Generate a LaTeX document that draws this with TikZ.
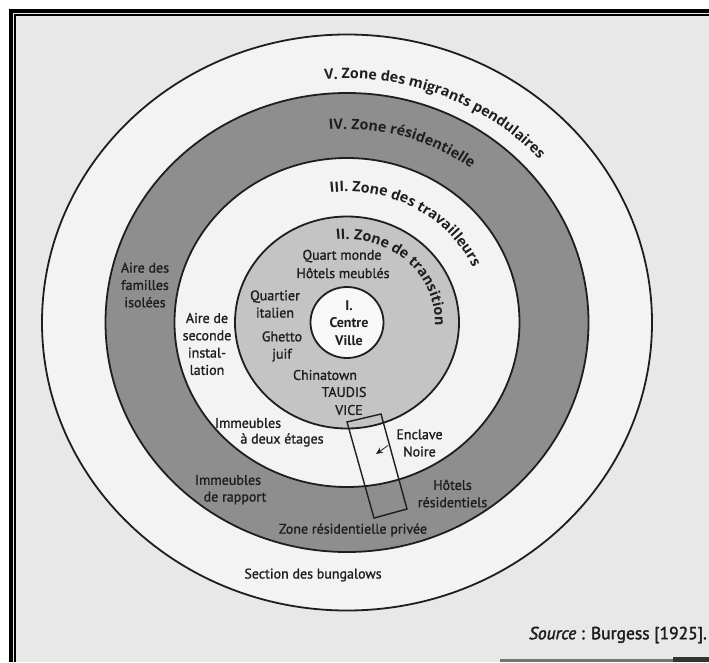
\documentclass[tikz,border=0pt]{standalone}
\usepackage{fontspec}
\setmainfont{PT Sans}
\newfontfamily\labelfamily[FakeBold=1.2]{PT Sans}
\newfontfamily\srcfamily[FakeBold=2]{PT Sans}
\newfontfamily\zonefamily{Open Sans}
\usetikzlibrary{decorations.text,arrows.meta}
\definecolor{bgc}{HTML}{E8E8E8}
\definecolor{lightring}{HTML}{F3F3F3}
\definecolor{darkring}{HTML}{8E8E8E}
\definecolor{midring}{HTML}{C4C4C4}
\definecolor{core}{HTML}{F8F8F8}
\definecolor{ink}{HTML}{1E1E1E}
\newcommand{\zonetitlefont}{\color{ink}\zonefamily\bfseries\fontsize{14.3}{16}\selectfont}
\begin{document}
\begin{tikzpicture}[x=1pt,y=-1pt,
  zone/.style={draw=ink,line width=1.8pt},
  lbl/.style={font=\labelfamily\fontsize{14}{17.3}\selectfont,align=center,text=ink,inner sep=0pt},
  blbl/.style={lbl,font=\bfseries\fontsize{14}{17.3}\selectfont},
  srclbl/.style={font=\srcfamily\fontsize{17.5}{20}\selectfont,text=ink,inner sep=0pt},
  frameline/.style={draw=black},
]
\useasboundingbox (0,0) rectangle (709,662);
\fill[white] (0,0) rectangle (709,662);
\fill[bgc] (9,9) rectangle (709,662);
% frame
\draw[frameline,line width=4pt] (11,662) -- (11,11) -- (709,11);
\draw[frameline,line width=1.6pt] (15.2,662) -- (15.2,15.2) -- (709,15.2);
\fill[black!55] (500,659) rectangle (709,662);
\fill[black!80] (673,657) rectangle (709,662);
% zones
\coordinate (c) at (347,322.5);
\draw[zone,fill=lightring] (c) ellipse [x radius=305, y radius=288];
\draw[zone,fill=darkring] (c) ellipse [x radius=241.5, y radius=229.5];
\draw[zone,fill=lightring] (c) ellipse [x radius=172.5, y radius=164.5];
\draw[zone,fill=midring] (c) ellipse [x radius=112, y radius=106];
\draw[zone,fill=core] (c) ellipse [x radius=36.5, y radius=35.5];
% curved titles
\path[decorate,decoration={text along path,text align=left,
  text={|\zonetitlefont|V. Zone des migrants pendulaires}}]
  ([shift={(c)}] -95:258 and 243.8) arc[start angle=-95,end angle=-10,x radius=258,y radius=243.8];
\path[decorate,decoration={text along path,text align=left,
  text={|\zonetitlefont|IV. Zone résidentielle}}]
  ([shift={(c)}] -95:204.5 and 193.3) arc[start angle=-95,end angle=-10,x radius=204.5,y radius=193.3];
\path[decorate,decoration={text along path,text align=left,
  text={|\zonetitlefont|III. Zone des travailleurs}}]
  ([shift={(c)}] -97:138.5 and 130.9) arc[start angle=-97,end angle=20,x radius=138.5,y radius=130.9];
\path[decorate,decoration={text along path,text align=left,
  text={|\zonetitlefont|II. Zone de transition}}]
  ([shift={(c)}] -97:88 and 83.2) arc[start angle=-97,end angle=40,x radius=88,y radius=83.2];
% black enclave strip
\coordinate (r1) at (347,422);
\coordinate (r2) at (381,414);
\coordinate (r3) at (407,509);
\coordinate (r4) at (374,518);
\draw[ink,line width=1.4pt,line join=miter] (r1) -- (r2) -- (r3) -- (r4) -- cycle;
\coordinate (arrs) at (388,445.5);
\coordinate (arre) at (376,454);
\draw[ink,line width=0.8pt,-{Stealth[length=7pt,width=6pt]}] (arrs) -- (arre);
% labels
\node[blbl] (centre) at (349,323) {I.\\Centre\\Ville};
\node[lbl] (quart) at (342,256) {Quart monde};
\node[lbl] (hotm) at (343,273) {Hôtels meublés};
\node[lbl] (quartier) at (275,304) {Quartier\\italien};
\node[lbl] (ghetto) at (282,346.5) {Ghetto\\juif};
\node[lbl] (china) at (325,375) {Chinatown};
\node[lbl] (taudis) at (344,392) {TAUDIS};
\node[lbl] (vice) at (349,410) {VICE};
\node[lbl] (aire2) at (207,344) {Aire de\\seconde\\instal-\\lation};
\node[lbl] (aire1) at (145,285) {Aire des\\familles\\isolées};
\node[lbl] (imm1) at (248,423) {Immeubles};
\node[lbl] (etag) at (282,440) {à deux étages};
\node[lbl] (encl) at (419.5,443) {Enclave\\Noire};
\node[lbl] (imm2a) at (228,480) {Immeubles};
\node[lbl] (imm2b) at (235,498) {de rapport};
\node[lbl] (hotr) at (452.5,493.5) {Hôtels\\résidentiels};
\node[lbl] (zrp) at (353,530) {Zone résidentielle privée};
\node[lbl] (bung) at (313,575) {Section des bungalows};
\node[srclbl,anchor=east] (src) at (707,635) {{\itshape Source} : Burgess [1925].};
\end{tikzpicture}
\end{document}
